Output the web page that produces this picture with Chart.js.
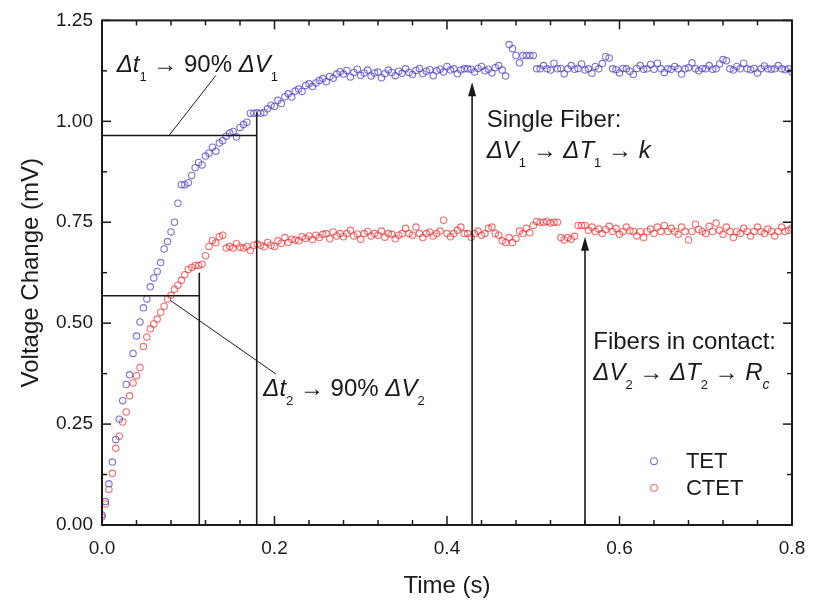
<!DOCTYPE html>
<html>
<head>
<meta charset="utf-8">
<script src="https://cdn.jsdelivr.net/npm/chart.js@4.4.1/dist/chart.umd.min.js"></script>
<style>
  html, body { margin: 0; padding: 0; background: #fff; }
  #wrap { width: 819px; height: 601px; }
</style>
</head>
<body>
<div id="wrap"><canvas id="voltageChart" width="819" height="601"></canvas></div>
<script>
// Transient voltage rise: single fiber (TET) vs fibers in contact (CTET).

// ----- Data -----
// Sample times in milliseconds, shared by both traces
const TIME_MS = [
  0, 4, 8, 12, 16, 20, 24, 28, 32, 36, 40, 44, 48, 52, 56, 60, 64, 68, 72, 76, 80, 84, 88, 92, 96,
  100, 104, 108, 112, 116, 120, 124, 128, 132, 136, 140, 144, 148, 152, 156, 160, 164, 168, 172, 176, 180, 184, 188, 192, 196,
  200, 204, 208, 212, 216, 220, 224, 228, 232, 236, 240, 244, 248, 252, 256, 260, 264, 268, 272, 276, 280, 284, 288, 292, 296,
  300, 304, 308, 312, 316, 320, 324, 328, 332, 336, 340, 344, 348, 352, 356, 360, 364, 368, 372, 376, 380, 384, 388, 392, 396,
  400, 404, 408, 412, 416, 420, 424, 428, 432, 436, 440, 444, 448, 452, 456, 460, 464, 468, 472, 476, 480, 484, 488, 492, 496,
  500, 504, 508, 512, 516, 520, 524, 528, 532, 536, 540, 544, 548, 552, 556, 560, 564, 568, 572, 576, 580, 584, 588, 592, 596,
  600, 604, 608, 612, 616, 620, 624, 628, 632, 636, 640, 644, 648, 652, 656, 660, 664, 668, 672, 676, 680, 684, 688, 692, 696,
  700, 704, 708, 712, 716, 720, 724, 728, 732, 736, 740, 744, 748, 752, 756, 760, 764, 768, 772, 776, 780, 784, 788, 792, 796,
  800
];

// TET (single fiber) voltage change, mV
const TET = [
  0.025, 0.058, 0.102, 0.156, 0.212, 0.262, 0.308, 0.348, 0.372, 0.425, 0.468, 0.503, 0.538, 0.560, 0.590, 0.612, 0.628, 0.650, 0.684, 0.702, 0.726, 0.750, 0.797, 0.843, 0.843,
  0.848, 0.866, 0.885, 0.898, 0.892, 0.914, 0.921, 0.936, 0.926, 0.946, 0.952, 0.963, 0.971, 0.975, 0.961, 0.985, 0.992, 0.998, 1.020, 1.020, 1.021, 1.020, 1.022, 1.031, 1.040,
  1.037, 1.052, 1.044, 1.061, 1.068, 1.060, 1.075, 1.080, 1.074, 1.089, 1.093, 1.086, 1.095, 1.101, 1.106, 1.098, 1.111, 1.107, 1.117, 1.123, 1.117, 1.126, 1.110, 1.121, 1.129,
  1.114, 1.120, 1.127, 1.112, 1.120, 1.122, 1.108, 1.118, 1.127, 1.121, 1.113, 1.124, 1.119, 1.130, 1.121, 1.116, 1.126, 1.131, 1.118, 1.124, 1.128, 1.113, 1.125, 1.129, 1.122,
  1.136, 1.127, 1.130, 1.118, 1.127, 1.130, 1.130, 1.129, 1.122, 1.131, 1.136, 1.125, 1.129, 1.120, 1.133, 1.138, 1.127, 1.112, 1.190, 1.180, 1.163, 1.145, 1.163, 1.163, 1.163,
  1.163, 1.130, 1.130, 1.138, 1.130, 1.127, 1.144, 1.130, 1.131, 1.118, 1.130, 1.138, 1.129, 1.131, 1.142, 1.127, 1.130, 1.119, 1.136, 1.130, 1.143, 1.160, 1.157, 1.130, 1.128,
  1.120, 1.131, 1.130, 1.124, 1.116, 1.131, 1.138, 1.129, 1.130, 1.141, 1.129, 1.144, 1.130, 1.121, 1.130, 1.129, 1.136, 1.130, 1.117, 1.130, 1.133, 1.145, 1.130, 1.125, 1.131,
  1.130, 1.138, 1.129, 1.130, 1.142, 1.153, 1.150, 1.130, 1.127, 1.136, 1.130, 1.144, 1.130, 1.128, 1.131, 1.120, 1.130, 1.137, 1.130, 1.129, 1.130, 1.138, 1.130, 1.128, 1.130,
  1.122
];

// CTET (fibers in contact) voltage change, mV
const CTET = [
  0.020, 0.052, 0.088, 0.128, 0.190, 0.220, 0.255, 0.280, 0.320, 0.352, 0.370, 0.390, 0.442, 0.466, 0.486, 0.498, 0.510, 0.527, 0.542, 0.560, 0.569, 0.584, 0.594, 0.606, 0.620,
  0.633, 0.638, 0.643, 0.643, 0.646, 0.667, 0.690, 0.705, 0.699, 0.714, 0.718, 0.686, 0.690, 0.686, 0.697, 0.688, 0.686, 0.690, 0.680, 0.693, 0.696, 0.693, 0.689, 0.700, 0.693,
  0.690, 0.704, 0.698, 0.712, 0.700, 0.708, 0.706, 0.704, 0.714, 0.710, 0.716, 0.707, 0.718, 0.712, 0.720, 0.722, 0.709, 0.726, 0.716, 0.722, 0.714, 0.722, 0.730, 0.716, 0.721,
  0.708, 0.722, 0.727, 0.716, 0.722, 0.718, 0.728, 0.713, 0.722, 0.720, 0.709, 0.718, 0.722, 0.735, 0.722, 0.718, 0.738, 0.722, 0.712, 0.722, 0.726, 0.716, 0.722, 0.728, 0.755,
  0.722, 0.714, 0.722, 0.730, 0.738, 0.722, 0.722, 0.713, 0.722, 0.728, 0.718, 0.722, 0.735, 0.738, 0.722, 0.718, 0.704, 0.700, 0.712, 0.700, 0.710, 0.728, 0.722, 0.735, 0.724,
  0.742, 0.752, 0.750, 0.750, 0.752, 0.748, 0.750, 0.750, 0.712, 0.706, 0.712, 0.708, 0.715, 0.742, 0.742, 0.742, 0.730, 0.738, 0.727, 0.733, 0.722, 0.732, 0.740, 0.727, 0.735,
  0.720, 0.727, 0.738, 0.729, 0.727, 0.716, 0.727, 0.712, 0.727, 0.733, 0.722, 0.738, 0.727, 0.742, 0.727, 0.735, 0.727, 0.720, 0.738, 0.727, 0.706, 0.727, 0.745, 0.732, 0.727,
  0.722, 0.740, 0.727, 0.748, 0.730, 0.720, 0.738, 0.727, 0.712, 0.727, 0.722, 0.735, 0.727, 0.716, 0.727, 0.738, 0.727, 0.722, 0.733, 0.727, 0.716, 0.727, 0.738, 0.727, 0.730,
  0.735
];

const X_TICKS = [0, 0.2, 0.4, 0.6, 0.8];
const Y_TICKS = [0, 0.25, 0.5, 0.75, 1.0, 1.25];

// ----- Annotations, in data units (t in s, v in mV) -----
// Guide lines [t0, v0, t1, v1]
const GUIDES = [
  [0, 0.965, 0.1794, 0.965],
  [0.1794, 0, 0.1794, 1.022],
  [0, 0.568, 0.1128, 0.568],
  [0.1128, 0, 0.1128, 0.625]
];
const CALLOUTS = [
  [0.0777, 0.965, 0.1322, 1.114],
  [0.0788, 0.557, 0.2017, 0.374]
];
// Upward arrows [t, vFrom, vTip]
const ARROWS = [
  [0.4291, 0, 1.097],
  [0.56, 0, 0.714]
];
// Text pieces: [text, style] where style '' upright, 'i' italic, 's' subscript, 'si' italic subscript
const NOTES = [
  { t: 0.017, v: 1.122, parts: [['Δt', 'i'], ['1', 's'], [' → 90% ', ''], ['ΔV', 'i'], ['1', 's']] },
  { t: 0.187, v: 0.319, parts: [['Δt', 'i'], ['2', 's'], [' → 90% ', ''], ['ΔV', 'i'], ['2', 's']] },
  { t: 0.446, v: 0.986, parts: [['Single Fiber:', '']] },
  { t: 0.446, v: 0.908, parts: [['ΔV', 'i'], ['1', 's'], [' → ', ''], ['ΔT', 'i'], ['1', 's'], [' → ', ''], ['k', 'i']] },
  { t: 0.5696, v: 0.437, parts: [['Fibers in contact:', '']] },
  { t: 0.5696, v: 0.359, parts: [['ΔV', 'i'], ['2', 's'], [' → ', ''], ['ΔT', 'i'], ['2', 's'], [' → ', ''], ['R', 'i'], ['c', 'si']] }
];
// Legend anchor (marker position) and row positions, data units
const LEGEND_T = 0.64, LEGEND_TEXT_T = 0.677, LEGEND_V = [0.158, 0.092];

// ----- Styles -----
const FAMILY = '"Liberation Sans", Arial, Helvetica, sans-serif';
const INK = '#1a1a1a';
const BLUE = 'rgba(75, 60, 205, 0.72)';
const RED = 'rgba(240, 40, 40, 0.68)';

function line(ctx, x0, y0, x1, y1) {
  ctx.beginPath();
  ctx.moveTo(x0, y0);
  ctx.lineTo(x1, y1);
  ctx.stroke();
}

function drawRich(ctx, x, y, parts) {
  parts.forEach(function (p) {
    const txt = p[0], style = p[1];
    let dy = 0;
    if (style === 's') { ctx.font = '13px ' + FAMILY; dy = 9; }
    else if (style === 'si') { ctx.font = 'italic 14px ' + FAMILY; dy = 9; }
    else if (style === 'i') { ctx.font = 'italic 24px ' + FAMILY; }
    else { ctx.font = '24px ' + FAMILY; }
    ctx.fillText(txt, x, y + dy);
    x += ctx.measureText(txt).width;
  });
}

// Frame, inward ticks on all four sides, guides, arrows, text and legend
const overlayPlugin = {
  id: 'overlay',
  afterDatasetsDraw: function (chart) {
    const ctx = chart.ctx;
    const a = chart.chartArea;
    const xs = chart.scales.x, ys = chart.scales.y;
    const X = function (t) { return xs.getPixelForValue(t); };
    const Y = function (v) { return ys.getPixelForValue(v); };
    ctx.save();
    ctx.strokeStyle = INK;
    ctx.fillStyle = INK;

    // guide lines
    ctx.lineWidth = 1.6;
    GUIDES.forEach(function (g) { line(ctx, X(g[0]), Y(g[1]), X(g[2]), Y(g[3])); });
    ctx.lineWidth = 1;
    CALLOUTS.forEach(function (g) { line(ctx, X(g[0]), Y(g[1]), X(g[2]), Y(g[3])); });

    // arrows
    ctx.lineWidth = 1.6;
    ARROWS.forEach(function (ar) {
      const x = X(ar[0]), yTip = Y(ar[2]);
      line(ctx, x, Y(ar[1]), x, yTip + 10);
      ctx.beginPath();
      ctx.moveTo(x, yTip);
      ctx.lineTo(x - 4, yTip + 14);
      ctx.lineTo(x + 4, yTip + 14);
      ctx.closePath();
      ctx.fill();
    });

    // ticks
    ctx.lineWidth = 1.5;
    const xMinor = (xs.max - xs.min) / 20;
    for (let k = 0; k <= 20; k++) {
      const px = X(xs.min + k * xMinor);
      const len = k % 5 === 0 ? 9 : 5;
      line(ctx, px, a.bottom, px, a.bottom - len);
      line(ctx, px, a.top, px, a.top + len);
    }
    const yMinor = (ys.max - ys.min) / 10;
    for (let k = 0; k <= 10; k++) {
      const py = Y(ys.min + k * yMinor);
      const len = k % 2 === 0 ? 9 : 5;
      line(ctx, a.left, py, a.left + len, py);
      line(ctx, a.right, py, a.right - len, py);
    }

    // frame
    ctx.lineWidth = 2;
    ctx.strokeRect(a.left, a.top, a.right - a.left, a.bottom - a.top);

    // text notes
    ctx.textBaseline = 'alphabetic';
    ctx.textAlign = 'left';
    NOTES.forEach(function (n) { drawRich(ctx, X(n.t), Y(n.v), n.parts); });

    // legend
    ctx.textBaseline = 'middle';
    ctx.font = '22px ' + FAMILY;
    chart.data.datasets.forEach(function (ds, i) {
      const y = Y(LEGEND_V[i]);
      ctx.strokeStyle = ds.borderColor;
      ctx.lineWidth = 1.1;
      ctx.beginPath();
      ctx.arc(X(LEGEND_T), y, 3.4, 0, Math.PI * 2);
      ctx.stroke();
      ctx.fillStyle = INK;
      ctx.fillText(ds.label, X(LEGEND_TEXT_T), y + 1);
    });
    ctx.restore();
  }
};

function points(values) {
  return TIME_MS.map(function (ms, i) { return { x: ms / 1000, y: values[i] }; });
}

const ctx = document.getElementById('voltageChart').getContext('2d');
new Chart(ctx, {
  type: 'scatter',
  data: {
    datasets: [
      { label: 'TET', data: points(TET), borderColor: BLUE, backgroundColor: 'rgba(0,0,0,0)',
        pointRadius: 3.2, pointBorderWidth: 1.1, showLine: false },
      { label: 'CTET', data: points(CTET), borderColor: RED, backgroundColor: 'rgba(0,0,0,0)',
        pointRadius: 3.2, pointBorderWidth: 1.1, showLine: false }
    ]
  },
  options: {
    responsive: false,
    animation: false,
    events: [],
    layout: { padding: { top: 20, right: 27, bottom: 0, left: 0 } },
    plugins: { legend: { display: false }, tooltip: { enabled: false } },
    scales: {
      x: {
        type: 'linear', min: 0, max: 0.8,
        afterFit: function (s) { s.height = 76; },
        afterBuildTicks: function (s) { s.ticks = X_TICKS.map(function (v) { return { value: v }; }); },
        grid: { display: false, drawTicks: false, tickLength: 0 },
        border: { display: false },
        ticks: { padding: 12, color: INK, font: { family: FAMILY, size: 19 }, maxRotation: 0,
          callback: function (v) { return Number(v).toFixed(1); } },
        title: { display: true, text: 'Time (s)', color: INK, font: { family: FAMILY, size: 24 },
          padding: { top: 0, bottom: 0 } }
      },
      y: {
        type: 'linear', min: 0, max: 1.25,
        afterFit: function (s) { s.width = 102; },
        afterBuildTicks: function (s) { s.ticks = Y_TICKS.map(function (v) { return { value: v }; }); },
        grid: { display: false, drawTicks: false, tickLength: 0 },
        border: { display: false },
        ticks: { padding: 9, color: INK, font: { family: FAMILY, size: 19 },
          callback: function (v) { return Number(v).toFixed(2); } },
        title: { display: true, text: 'Voltage Change (mV)', color: INK, font: { family: FAMILY, size: 24 },
          padding: { top: 17, bottom: 0 } }
      }
    }
  },
  plugins: [overlayPlugin]
});
</script>
</body>
</html>
